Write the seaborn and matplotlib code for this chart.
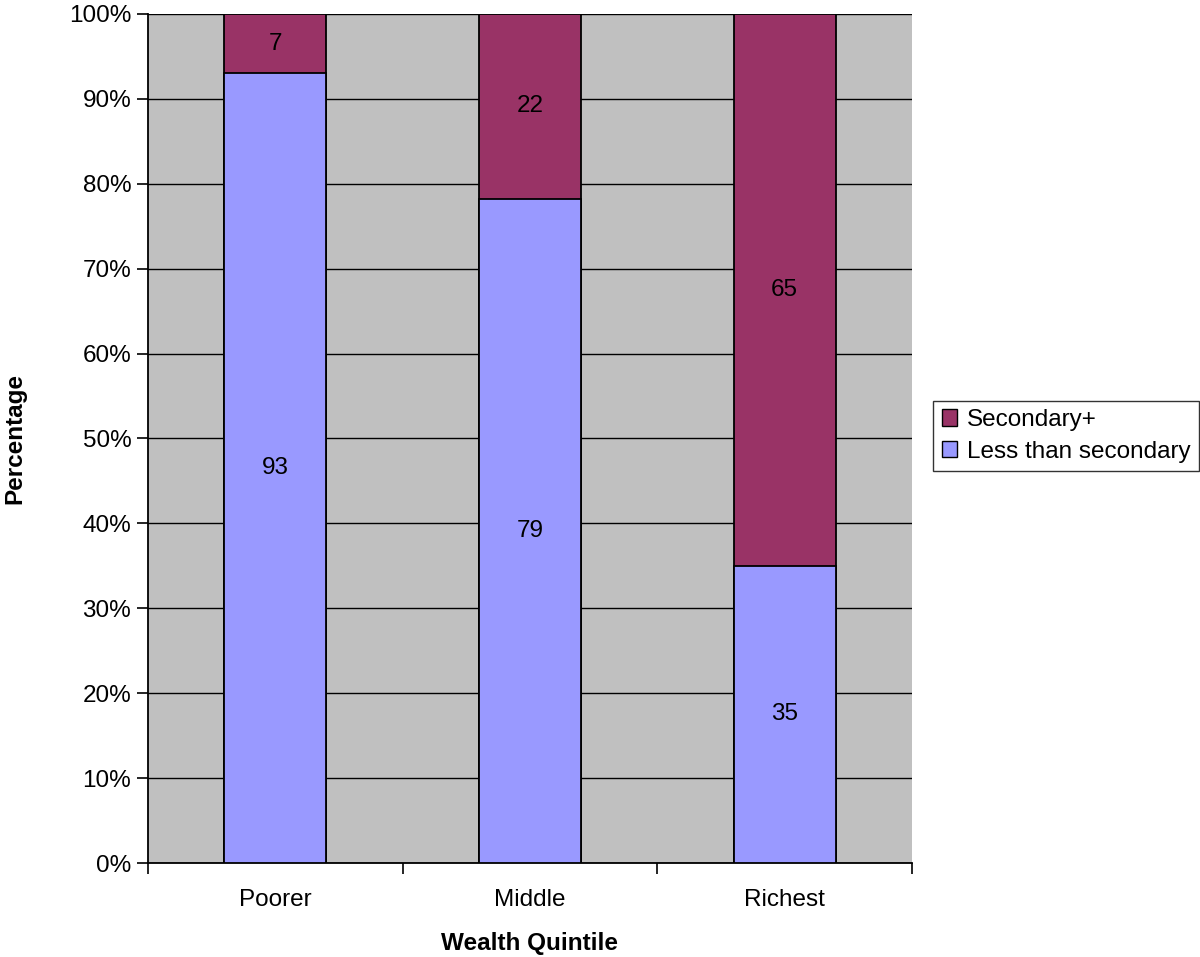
import numpy as np
import pandas as pd
import seaborn as sns
import matplotlib.pyplot as plt
from matplotlib.patches import Patch

# dados
quintis = ["Poorer", "Middle", "Richest"]
menos_que_secundario = [93, 79, 35]
secundario_mais = [7, 22, 65]
ticks_y = [0, 10, 20, 30, 40, 50, 60, 70, 80, 90, 100]

cor_fundo = "#C0C0C0"
cor_roxo = "#993366"
cor_azul = "#9999FF"

# 100% empilhado (Excel normaliza pela soma)
total = np.array(menos_que_secundario) + np.array(secundario_mais)
pct_menos = np.array(menos_que_secundario) / total * 100
df = pd.DataFrame({"quintil": quintis, "menos": pct_menos, "topo": 100.0})

sns.set_style("white")
plt.rcParams["font.family"] = ["Liberation Sans", "DejaVu Sans"]
plt.rcParams["text.color"] = "black"
plt.rcParams["axes.labelcolor"] = "black"
plt.rcParams["xtick.color"] = "black"
plt.rcParams["ytick.color"] = "black"

fs = 17.5

fig = plt.figure(figsize=(12, 9.57), dpi=100)
ax = fig.add_axes([0.1233, 0.0982, 0.6367, 0.8872])
ax.set_facecolor(cor_fundo)

# linhas de grade
for t in ticks_y:
    ax.axhline(t, color="black", lw=1.0, zorder=0)

sns.barplot(data=df, x="quintil", y="topo", color=cor_roxo, width=0.4,
            edgecolor="black", linewidth=1.3, saturation=1, ax=ax, zorder=2)
sns.barplot(data=df, x="quintil", y="menos", color=cor_azul, width=0.4,
            edgecolor="black", linewidth=1.3, saturation=1, ax=ax, zorder=3)

# rótulos de valor
for i, (a, b) in enumerate(zip(menos_que_secundario, secundario_mais)):
    ax.text(i, pct_menos[i] / 2, str(a), ha="center", va="center", fontsize=fs, zorder=4)
    ax.text(i, pct_menos[i] + (100 - pct_menos[i]) / 2, str(b), ha="center", va="center",
            fontsize=fs, zorder=4)

ax.set_xlim(-0.5, 2.5)
ax.set_ylim(0, 100)
ax.set_yticks(ticks_y)
ax.set_yticklabels([f"{t}%" for t in ticks_y], fontsize=fs)
ax.tick_params(axis="y", direction="out", length=8, width=1.2, pad=4, left=True)
ax.set_xticks(range(len(quintis)))
ax.set_xticklabels(quintis, fontsize=fs)
ax.set_xticks([-0.5, 0.5, 1.5, 2.5], minor=True)
ax.tick_params(axis="x", which="major", length=0, pad=19)
ax.tick_params(axis="x", which="minor", direction="out", length=8, width=1.2, bottom=True)

for s in ["top", "right"]:
    ax.spines[s].set_visible(False)
for s in ["left", "bottom"]:
    ax.spines[s].set_color("black")
    ax.spines[s].set_linewidth(1.3)

ax.set_xlabel("Wealth Quintile", fontsize=fs, fontweight="bold", labelpad=15)
ax.set_ylabel("Percentage", fontsize=fs, fontweight="bold")
ax.yaxis.set_label_coords(-0.159, 0.5)

handles = [Patch(facecolor=cor_roxo, edgecolor="black", label="Secondary+"),
           Patch(facecolor=cor_azul, edgecolor="black", label="Less than secondary")]
leg = fig.legend(handles=handles, loc="center left", bbox_to_anchor=(0.7775, 0.5444),
                 fontsize=fs, frameon=True, fancybox=False, edgecolor="black",
                 handlelength=0.65, handleheight=0.65, handletextpad=0.4,
                 borderpad=0.35, labelspacing=0.4, borderaxespad=0)
leg.get_frame().set_linewidth(1.0)

fig.savefig("out.png", dpi=100, facecolor="white")
